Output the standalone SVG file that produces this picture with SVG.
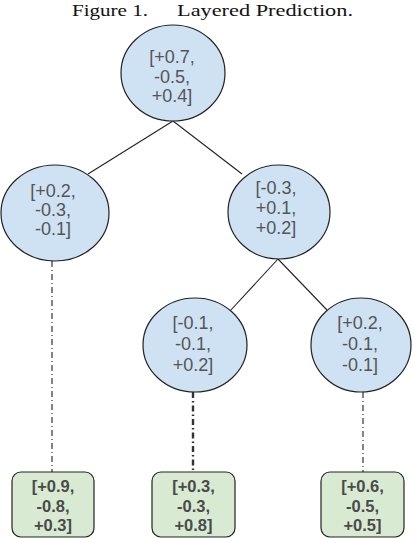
<svg xmlns="http://www.w3.org/2000/svg" width="414" height="538" viewBox="0 0 414 538">
<style>
.title{font-family:"Liberation Serif","Times New Roman",serif;font-size:17px;fill:#111}
.node ellipse{fill:#cfe2f3;stroke:#222;stroke-width:1.2}
.node text{font-family:"Liberation Sans",Arial,sans-serif;font-size:18px;fill:#555;text-anchor:middle}
.leaf rect{fill:#d9ead3;stroke:#222;stroke-width:1.2}
.leaf text{font-family:"Liberation Sans",Arial,sans-serif;font-size:16.5px;font-weight:bold;fill:#4a4a4a;text-anchor:middle}
.edge{stroke:#222;stroke-width:1.1;fill:none}
.dash{stroke:#333;stroke-width:1.2;stroke-dasharray:6 3 1 3;fill:none}
.dashthick{stroke:#333;stroke-width:2.4;stroke-dasharray:6 3 1.5 3;fill:none}
</style>
<rect width="414" height="538" fill="#fff"/>
<text class="title" x="72" y="16" textLength="76" lengthAdjust="spacingAndGlyphs">Figure 1.</text>
<text class="title" x="177" y="16" textLength="176" lengthAdjust="spacingAndGlyphs">Layered Prediction.</text>
<g id="connectors">
<line class="edge" x1="173" y1="121" x2="88" y2="174"/>
<line class="edge" x1="173" y1="121" x2="242" y2="174"/>
<line class="edge" x1="278" y1="259" x2="230" y2="311"/>
<line class="edge" x1="278" y1="259" x2="327" y2="310"/>
<line class="dash" x1="52" y1="261" x2="52" y2="472"/>
<line class="dashthick" x1="193" y1="392" x2="193" y2="472"/>
<line class="dash" x1="363" y1="392" x2="363" y2="472"/>
</g>
<g id="root" class="node">
<ellipse cx="173" cy="73" rx="52" ry="48"/>
<text x="172" y="63">[+0.7,</text><text x="172" y="83">-0.5,</text><text x="172" y="102">+0.4]</text>
</g>
<g id="n-left" class="node">
<ellipse cx="55" cy="213" rx="54" ry="48"/>
<text x="53" y="197">[+0.2,</text><text x="53" y="216">-0.3,</text><text x="53" y="235">-0.1]</text>
</g>
<g id="n-right" class="node">
<ellipse cx="279" cy="212" rx="51" ry="47"/>
<text x="276" y="194">[-0.3,</text><text x="276" y="214">+0.1,</text><text x="276" y="234">+0.2]</text>
</g>
<g id="n-rl" class="node">
<ellipse cx="195" cy="345" rx="52" ry="47"/>
<text x="193" y="329">[-0.1,</text><text x="193" y="350">-0.1,</text><text x="193" y="371">+0.2]</text>
</g>
<g id="n-rr" class="node">
<ellipse cx="361" cy="345" rx="50" ry="47"/>
<text x="360" y="329">[+0.2,</text><text x="360" y="350">-0.1,</text><text x="360" y="371">-0.1]</text>
</g>
<g id="leaf1" class="leaf">
<rect x="12" y="472" width="82" height="65" rx="9"/>
<text x="53" y="492">[+0.9,</text><text x="53" y="512">-0.8,</text><text x="53" y="531">+0.3]</text>
</g>
<g id="leaf2" class="leaf">
<rect x="152" y="472" width="83" height="65" rx="9"/>
<text x="193.5" y="492">[+0.3,</text><text x="193.5" y="512">-0.3,</text><text x="193.5" y="531">+0.8]</text>
</g>
<g id="leaf3" class="leaf">
<rect x="321" y="472" width="83" height="65" rx="9"/>
<text x="362.5" y="492">[+0.6,</text><text x="362.5" y="512">-0.5,</text><text x="362.5" y="531">+0.5]</text>
</g>
</svg>
